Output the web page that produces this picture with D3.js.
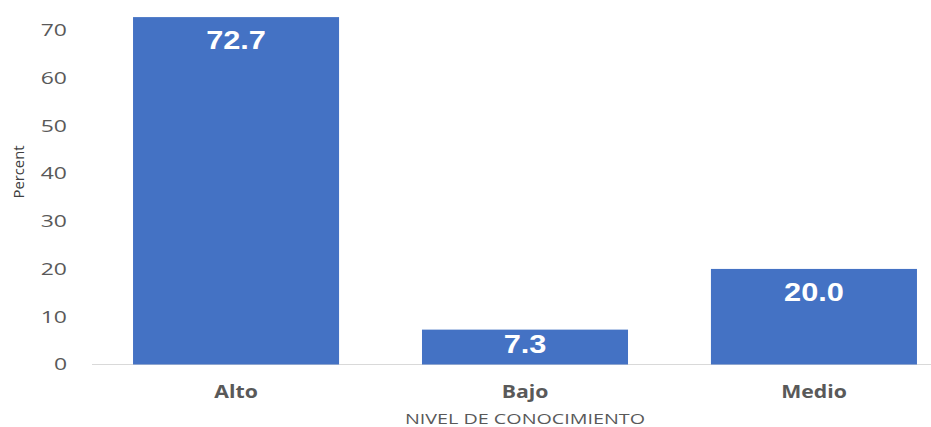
<!DOCTYPE html>
<html><head><meta charset="utf-8">
<script src="https://cdn.jsdelivr.net/npm/d3@7"></script>
<style>body{margin:0;background:#fff}svg{display:block}</style>
</head><body><svg id="c" width="931" height="427"></svg>
<script>
const categories = ["Alto", "Bajo", "Medio"];
const values = [72.7, 7.3, 20.0];
const yTicks = [0, 10, 20, 30, 40, 50, 60, 70];
const xTitle = "NIVEL DE CONOCIMIENTO";
const yTitle = "Percent";

const svg = d3.select("#c");
const x = d3.scaleBand().domain(categories).range([92, 958]).paddingInner(0.287).paddingOuter(0.142);
const y = d3.scaleLinear().domain([0, 70]).range([364.5, 30]);

svg.append("line").attr("x1", 92).attr("x2", 931).attr("y1", y(0)).attr("y2", y(0))
  .attr("stroke", "#d9d9d9").attr("stroke-width", 1);

svg.selectAll("rect.bar").data(values).join("rect").attr("class", "bar")
  .attr("x", (d, i) => x(categories[i])).attr("width", x.bandwidth())
  .attr("y", d => y(d)).attr("height", d => y(0) - y(d)).attr("fill", "#4472c4");

svg.selectAll("text.val").data(values).join("text").attr("class", "val")
  .attr("transform", (d, i) => `translate(${x(categories[i]) + x.bandwidth() / 2},${Math.min(y(d) + 32, y(0) - 12)}) scale(1.23,1)`)
  .attr("text-anchor", "middle").attr("fill", "#fff")
  .attr("font-family", "Liberation Sans, Arial, sans-serif").attr("font-weight", "bold").attr("font-size", 25)
  .text(d => d.toFixed(1));

const yAxis = d3.axisLeft(y).tickValues(yTicks).tickSize(0).tickPadding(0);
const gy = svg.append("g").attr("transform", "translate(67,0)").call(yAxis);
gy.select(".domain").remove();
gy.selectAll("text").attr("x", 0).attr("transform", "scale(1.35,1)")
  .attr("font-family", "Open Sans, sans-serif").attr("font-size", 17).attr("fill", "#595959");

const xAxis = d3.axisBottom(x).tickSize(0).tickPadding(0);
const gx = svg.append("g").attr("transform", "translate(0,386)").call(xAxis);
gx.select(".domain").remove();
gx.selectAll("text").attr("transform", "scale(1.25,1)")
  .attr("font-family", "Open Sans, sans-serif").attr("font-weight", "bold").attr("font-size", 17).attr("fill", "#595959");

svg.append("text").attr("x", 525).attr("y", 424).attr("text-anchor", "middle")
  .attr("font-family", "Open Sans, sans-serif").attr("font-size", 14).attr("fill", "#595959")
  .attr("textLength", 240).attr("lengthAdjust", "spacingAndGlyphs").text(xTitle);

svg.append("text").attr("transform", "translate(24,172) rotate(-90)").attr("text-anchor", "middle")
  .attr("font-family", "Open Sans, sans-serif").attr("font-size", 15).attr("fill", "#404040")
  .attr("textLength", 53).attr("lengthAdjust", "spacingAndGlyphs").text(yTitle);
</script></body></html>
